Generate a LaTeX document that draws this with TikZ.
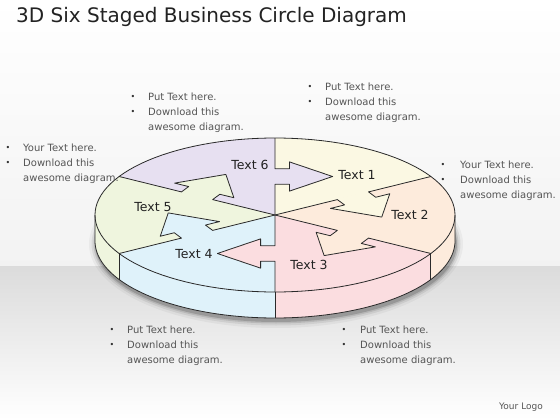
\documentclass[tikz,border=0pt]{standalone}
\usepackage{fontspec}
\setmainfont{DejaVu Sans}
\definecolor{cA}{HTML}{FBF8E3}
\definecolor{cB}{HTML}{FDEBDC}
\definecolor{cC}{HTML}{FBDDE0}
\definecolor{cD}{HTML}{DFF2FA}
\definecolor{cE}{HTML}{EFF5DE}
\definecolor{cF}{HTML}{E7E0F1}
\definecolor{lineC}{HTML}{2A2A2A}
\definecolor{labelC}{HTML}{222222}
\definecolor{txtC}{HTML}{555555}
\definecolor{bulC}{HTML}{333333}
\tikzset{
 outl/.style={draw=lineC, line width=0.8pt, line join=round},
 lbl/.style={font=\fontsize{12.5}{14}\selectfont, text=labelC, inner sep=0pt},
 bul/.style={font=\fontsize{8}{8}\selectfont, text=bulC, inner sep=0pt},
 btxt/.style={anchor=west, font=\fontsize{10}{12}\selectfont, text=txtC, inner sep=0pt, text height=8pt, text depth=1pt},
}
\newcommand\bulblock[5]{%
 \node[bul] (#1b1) at ({#2},{#4}) {•};
 \node[bul] (#1b2) at ({#2},{#4+15}) {•};
 \node[btxt] (#1t1) at ({#3},{#4}) {#5};
 \node[btxt] (#1t2) at ({#3},{#4+15}) {Download this};
 \node[btxt] (#1t3) at ({#3},{#4+30}) {awesome diagram.};
}
\begin{document}
\begin{tikzpicture}[x=1pt,y=-1pt,line join=round]
\useasboundingbox (0,0) rectangle (560,420);
\fill[top color=white,bottom color=gray!10] (0,0) rectangle (560,266);
\fill[top color=gray!28,bottom color=white] (0,266) rectangle (560,420);
% shadow
\foreach \o/\op in {7/0.04,4.5/0.07,2.5/0.1,1/0.16}
  \fill[black,opacity=\op] (276,244) ellipse [x radius={(180+\o)*1pt}, y radius={(77+\o)*1pt}];
% title
\node[anchor=west,font=\fontsize{20}{22}\selectfont,text=labelC,inner sep=0pt] (title) at (16,17) {3D Six Staged Business Circle Diagram};
\begin{scope}[shift={(275,215)},x=180pt,y=77pt]
 \def\hh{0.3377}
 % side segments
 \fill[cE] plot[domain=180:210] ({cos(\x)},{sin(\x)}) -- plot[domain=210:180] ({cos(\x)},{sin(\x)-\hh}) -- cycle;
 \fill[cD] plot[domain=210:270] ({cos(\x)},{sin(\x)}) -- plot[domain=270:210] ({cos(\x)},{sin(\x)-\hh}) -- cycle;
 \fill[cC] plot[domain=270:330] ({cos(\x)},{sin(\x)}) -- plot[domain=330:270] ({cos(\x)},{sin(\x)-\hh}) -- cycle;
 \fill[cB] plot[domain=330:360] ({cos(\x)},{sin(\x)}) -- plot[domain=360:330] ({cos(\x)},{sin(\x)-\hh}) -- cycle;
 % top wedges
 \fill[cA] (0,0) -- plot[domain=30:90] ({cos(\x)},{sin(\x)}) -- cycle;
 \fill[cB] (0,0) -- plot[domain=-30:30] ({cos(\x)},{sin(\x)}) -- cycle;
 \fill[cC] (0,0) -- plot[domain=-90:-30] ({cos(\x)},{sin(\x)}) -- cycle;
 \fill[cD] (0,0) -- plot[domain=210:270] ({cos(\x)},{sin(\x)}) -- cycle;
 \fill[cE] (0,0) -- plot[domain=150:210] ({cos(\x)},{sin(\x)}) -- cycle;
 \fill[cF] (0,0) -- plot[domain=90:150] ({cos(\x)},{sin(\x)}) -- cycle;
 % arrows and boundaries
 \pgfmathsetmacro\arD{0.5}
 \pgfmathsetmacro\arS{0.1}
 \pgfmathsetmacro\arH{0.19}
 \pgfmathsetmacro\arL{0.08}
 \pgfmathsetmacro\arT{0.32}
 \foreach \a/\col in {90/cF,30/cA,-30/cB,-90/cC,210/cD,150/cE}{
   \pgfmathsetmacro\cc{cos(\a)}
   \pgfmathsetmacro\ss{sin(\a)}
   \coordinate (q1) at ({(\arD-\arS)*\cc-0.01*\ss},{(\arD-\arS)*\ss+0.01*\cc});
   \coordinate (q7) at ({(\arD+\arS)*\cc-0.01*\ss},{(\arD+\arS)*\ss+0.01*\cc});
   \coordinate (p1) at ({(\arD-\arS)*\cc},{(\arD-\arS)*\ss});
   \coordinate (p2) at ({(\arD-\arS)*\cc+\arL*\ss},{(\arD-\arS)*\ss-\arL*\cc});
   \coordinate (p3) at ({(\arD-\arH)*\cc+\arL*\ss},{(\arD-\arH)*\ss-\arL*\cc});
   \coordinate (p4) at ({\arD*\cc+\arT*\ss},{\arD*\ss-\arT*\cc});
   \coordinate (p5) at ({(\arD+\arH)*\cc+\arL*\ss},{(\arD+\arH)*\ss-\arL*\cc});
   \coordinate (p6) at ({(\arD+\arS)*\cc+\arL*\ss},{(\arD+\arS)*\ss-\arL*\cc});
   \coordinate (p7) at ({(\arD+\arS)*\cc},{(\arD+\arS)*\ss});
   \coordinate (p8) at ({\cc},{\ss});
   \coordinate (p0) at (0,0);
   \fill[\col] (q1) -- (p2) -- (p3) -- (p4) -- (p5) -- (p6) -- (q7) -- cycle;
   \draw[outl] (p0) -- (p1) -- (p2) -- (p3) -- (p4) -- (p5) -- (p6) -- (p7) -- (p8);
 }
 % outlines
 \draw[outl] plot[domain=0:360,samples=121] ({cos(\x)},{sin(\x)}) -- cycle;
 \draw[outl] (1,0) -- (1,-\hh) -- plot[domain=360:180,samples=91] ({cos(\x)},{sin(\x)-\hh}) -- (-1,0);
 \foreach \a in {210,270,330}
   \draw[outl] ({cos(\a)},{sin(\a)}) -- ({cos(\a)},{sin(\a)-\hh});
\end{scope}
% labels
\node[lbl] (l1) at (357,175) {Text 1};
\node[lbl] (l2) at (410,215) {Text 2};
\node[lbl] (l3) at (309,265) {Text 3};
\node[lbl] (l4) at (194,254) {Text 4};
\node[lbl] (l5) at (153,207) {Text 5};
\node[lbl] (l6) at (250,165) {Text 6};
% bullet blocks
\bulblock{ba}{133}{148}{97}{Put Text here.}
\bulblock{bb}{8}{23}{148}{Your Text here.}
\bulblock{bc}{310}{325}{87}{Put Text here.}
\bulblock{bd}{443}{460}{165}{Your Text here.}
\bulblock{be}{112}{127}{330}{Put Text here.}
\bulblock{bf}{344}{360}{330}{Put Text here.}
\node[font=\fontsize{9}{10}\selectfont,text=txtC,inner sep=0pt] (logo) at (521,407) {Your Logo};
\end{tikzpicture}
\end{document}
